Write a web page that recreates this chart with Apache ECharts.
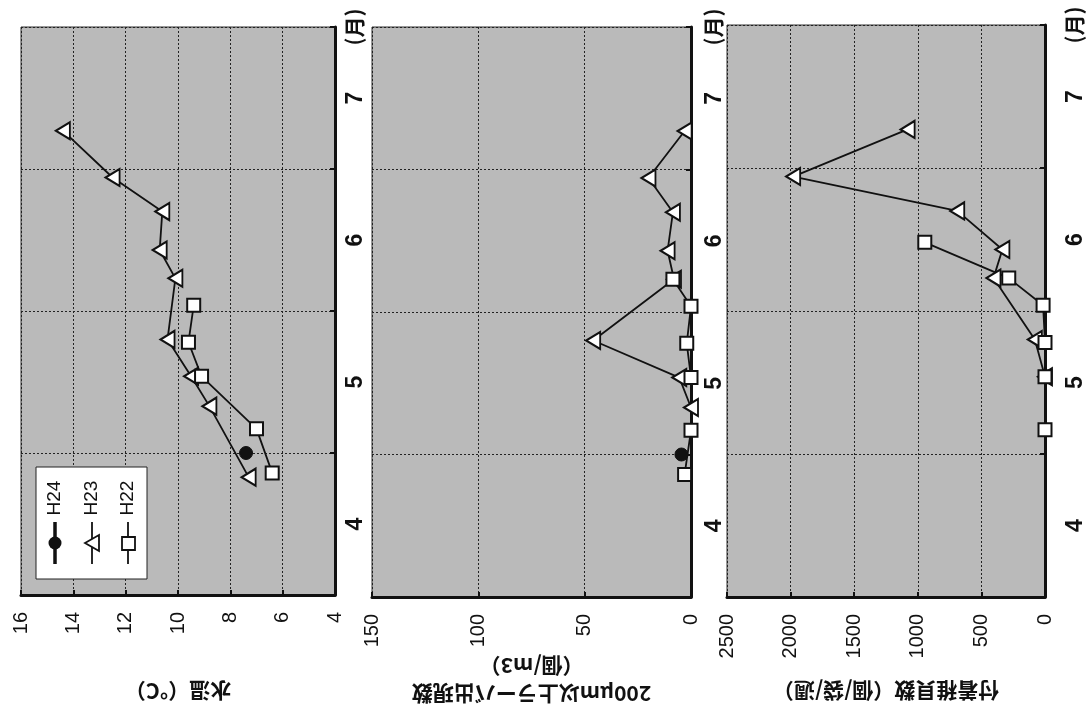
<!DOCTYPE html>
<html>
<head>
<meta charset="utf-8">
<script src="https://cdn.jsdelivr.net/npm/echarts@6.0.0/dist/echarts.min.js"></script>
<style>
  html, body { margin: 0; padding: 0; background: #fff; }
  #chart { width: 1087px; height: 708px; }
</style>
</head>
<body>
<div id="chart"></div>
<script>
// 調査日（月の小数表示：4.0 = 4月1日）
const datesH24 = [5.0];
const datesH23 = [4.83, 5.33, 5.54, 5.80, 6.23, 6.43, 6.70, 6.94, 7.27];
const datesH22 = [4.86, 5.17, 5.54, 5.78, 6.04, 6.23, 6.48];
const monthLabels = ['4', '5', '6', '7'];

// 水温（°C）
const tempH24 = [7.4];
const tempH23 = [7.3, 8.8, 9.5, 10.4, 10.1, 10.7, 10.6, 12.5, 14.4];
const tempH22 = [6.4, 7.0, 9.1, 9.6, 9.4, null, null];

// 200μm以上ラーバ出現数（個/m3）
const larvaH24 = [4.5];
const larvaH23 = [null, 0, 5.5, 46, 8, 11, 8.5, 20, 3];
const larvaH22 = [3, 0, 0, 2, 0, 8.5, null];

// 付着稚貝数（個/袋/週）
const spatH24 = [null];
const spatH23 = [null, null, 0, 80, 405, 335, 690, 1980, 1080];
const spatH22 = [null, 0, 0, 0, 15, 285, 945];

// 値軸の目盛 [min, max, 間隔]
const tempTicks = [4, 16, 2];
const larvaTicks = [0, 150, 50];
const spatTicks = [0, 2500, 500];

const NUM_FONT = 'Liberation Sans, Arial, sans-serif';
const JP_FONT = 'Noto Sans CJK JP, sans-serif';
const INK = '#111';

// [値, 月] の組にする（欠測は飛ばす）
function pts(dates, vals) {
  const out = [];
  dates.forEach((d, i) => {
    if (vals[i] != null) out.push([vals[i], d]);
  });
  return out;
}

const chart = echarts.init(document.getElementById('chart'));

const grids = [
  { left: 21, top: 27, width: 314, height: 568 },
  { left: 372, top: 27, width: 319, height: 570 },
  { left: 727, top: 25, width: 318, height: 572 }
].map(g => Object.assign({
  show: true,
  backgroundColor: '#bababa',
  borderColor: '#333',
  borderWidth: 1,
  containLabel: false,
  outerBoundsMode: 'none'
}, g));

const dotted = { show: true, lineStyle: { color: '#222', width: 1, type: [2, 2] } };

function valueAxis(idx, ticks, name, nameGap) {
  return {
    type: 'value',
    gridIndex: idx,
    min: ticks[0],
    max: ticks[1],
    interval: ticks[2],
    inverse: true,
    position: 'bottom',
    axisLine: { show: true, onZero: false, lineStyle: { color: INK, width: 3 } },
    axisTick: { show: true, inside: true, length: 5, lineStyle: { color: INK, width: 2 } },
    splitLine: dotted,
    axisLabel: {
      rotate: 90, margin: 17, fontSize: 20, color: INK, fontFamily: NUM_FONT,
      showMinLabel: true, showMaxLabel: true,
      formatter: v => String(v)
    },
    name: name,
    nameLocation: 'middle',
    nameRotate: 180,
    nameGap: nameGap,
    nameMoveOverlap: false,
    nameTextStyle: { fontSize: 21, fontWeight: 'bold', color: INK, fontFamily: JP_FONT, lineHeight: 28 }
  };
}

function monthAxis(idx, margin) {
  return {
    type: 'value',
    gridIndex: idx,
    min: 4,
    max: 8,
    interval: 1,
    position: 'right',
    axisLine: { show: true, onZero: false, lineStyle: { color: INK, width: 3 } },
    axisTick: { show: true, inside: true, length: 5, lineStyle: { color: INK, width: 2 } },
    splitLine: dotted,
    axisLabel: {
      rotate: 90, margin: margin, fontSize: 21, fontWeight: 'bold', color: INK, fontFamily: JP_FONT,
      showMinLabel: true, showMaxLabel: true,
      formatter: v => (v === 8 ? '(月)' : '')
    }
  };
}

function monthLabelAxis(idx, margin) {
  return {
    type: 'category',
    gridIndex: idx,
    data: monthLabels,
    boundaryGap: true,
    position: 'right',
    axisLine: { show: false },
    axisTick: { show: false },
    splitLine: { show: false },
    axisLabel: {
      rotate: 90, margin: margin, fontSize: 23, fontWeight: 'bold', color: INK,
      fontFamily: NUM_FONT, interval: 0
    }
  };
}

function lineSeries(name, idx, data, kind) {
  const s = {
    name: name,
    type: 'line',
    xAxisIndex: idx,
    yAxisIndex: idx * 2,
    data: data,
    clip: false,
    animation: false,
    emphasis: { disabled: true },
    lineStyle: { color: INK, width: 1.8 },
    itemStyle: { color: '#fff', borderColor: INK, borderWidth: 2 }
  };
  if (kind === 'tri') {
    s.symbol = 'triangle';
    s.symbolSize = [17, 14];
    s.symbolRotate = 90;
  } else if (kind === 'sq') {
    s.symbol = 'rect';
    s.symbolSize = 13;
  } else {
    s.symbol = 'circle';
    s.symbolSize = 13;
    s.itemStyle = { color: INK, borderColor: INK, borderWidth: 1 };
  }
  return s;
}

const sets = [
  [tempH24, tempH23, tempH22],
  [larvaH24, larvaH23, larvaH22],
  [spatH24, spatH23, spatH22]
];
const series = [];
sets.forEach((s, i) => {
  series.push(lineSeries('H23', i, pts(datesH23, s[1]), 'tri'));
  series.push(lineSeries('H22', i, pts(datesH22, s[2]), 'sq'));
  series.push(lineSeries('H24', i, pts(datesH24, s[0]), 'dot'));
});

// 凡例（回転しているので graphic で描く）
const legend = [
  { type: 'rect', shape: { x: 36, y: 467, width: 111, height: 112 },
    style: { fill: '#fff', stroke: '#222', lineWidth: 1 }, z: 20 },
  { type: 'line', shape: { x1: 55, y1: 522, x2: 55, y2: 564 },
    style: { stroke: INK, lineWidth: 3.5 }, z: 21 },
  { type: 'circle', shape: { cx: 55, cy: 543, r: 6.5 }, style: { fill: INK }, z: 22 },
  { type: 'line', shape: { x1: 92, y1: 522, x2: 92, y2: 564 },
    style: { stroke: INK, lineWidth: 1.8 }, z: 21 },
  { type: 'polygon', shape: { points: [[85, 543], [99, 535], [99, 551]] },
    style: { fill: '#fff', stroke: INK, lineWidth: 1.8 }, z: 22 },
  { type: 'line', shape: { x1: 128, y1: 522, x2: 128, y2: 564 },
    style: { stroke: INK, lineWidth: 1.8 }, z: 21 },
  { type: 'rect', shape: { x: 122, y: 537, width: 13, height: 13 },
    style: { fill: '#fff', stroke: INK, lineWidth: 1.8 }, z: 22 }
];
['H24', 'H23', 'H22'].forEach((t, i) => {
  legend.push({
    type: 'text', x: [55, 92, 128][i], y: 498, rotation: Math.PI / 2, z: 22,
    style: { text: t, fontSize: 19, fill: INK, fontFamily: NUM_FONT, align: 'center', verticalAlign: 'middle' }
  });
});

chart.setOption({
  animation: false,
  backgroundColor: '#fff',
  grid: grids,
  xAxis: [
    valueAxis(0, tempTicks, '水温（°C）', 82),
    valueAxis(1, larvaTicks, '200μm以上ラーバ出現数\n（個/m3）', 55),
    valueAxis(2, spatTicks, '付着稚貝数（個/袋/週）', 80)
  ],
  yAxis: [
    monthAxis(0, 9), monthLabelAxis(0, 9),
    monthAxis(1, 12), monthLabelAxis(1, 12),
    monthAxis(2, 19), monthLabelAxis(2, 19)
  ],
  series: series,
  graphic: legend
});
</script>
</body>
</html>
